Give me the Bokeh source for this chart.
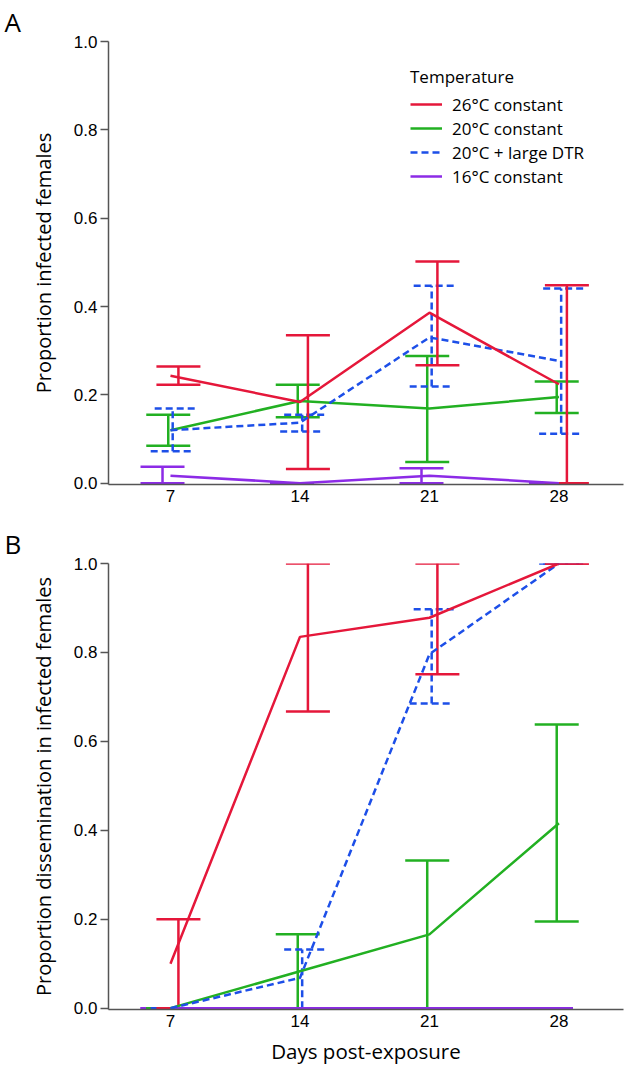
from bokeh.plotting import figure
from bokeh.models import (ColumnDataSource, Whisker, TeeHead, Legend, LegendItem,
                          FixedTicker, PrintfTickFormatter, Range1d)
from bokeh.layouts import column
from bokeh.transform import dodge
from bokeh.embed import file_html
from bokeh.resources import INLINE

# ---------------- data ----------------
days = [7, 14, 21, 28]
x_ticks = [7, 14, 21, 28]
y_ticks = [0.0, 0.2, 0.4, 0.6, 0.8, 1.0]
series_names = ["26°C constant", "20°C constant", "20°C + large DTR", "16°C constant"]

# Panel A: proportion infected females (mean, lower, upper)
inf_26 = [0.243, 0.184, 0.386, 0.224]
inf_26_lo = [0.223, 0.032, 0.267, 0.0]
inf_26_hi = [0.264, 0.335, 0.502, 0.448]
inf_20 = [0.120, 0.186, 0.169, 0.195]
inf_20_lo = [0.085, 0.149, 0.048, 0.159]
inf_20_hi = [0.155, 0.223, 0.288, 0.230]
inf_dtr = [0.120, 0.137, 0.330, 0.277]
inf_dtr_lo = [0.072, 0.117, 0.219, 0.112]
inf_dtr_hi = [0.169, 0.155, 0.447, 0.441]
inf_16 = [0.017, 0.0, 0.017, 0.0]
inf_16_lo = [0.0, 0.0, 0.0, 0.0]
inf_16_hi = [0.037, 0.0, 0.034, 0.0]

# Panel B: proportion dissemination in infected females
dis_26 = [0.100, 0.835, 0.878, 1.0]
dis_26_lo = [0.0, 0.667, 0.751, 1.0]
dis_26_hi = [0.200, 1.0, 1.0, 1.0]
dis_20 = [0.0, 0.083, 0.166, 0.416]
dis_20_lo = [0.0, 0.0, 0.0, 0.195]
dis_20_hi = [0.0, 0.166, 0.332, 0.638]
dis_dtr = [0.0, 0.068, 0.796, 1.0]
dis_dtr_lo = [0.0, 0.0, 0.685, 1.0]
dis_dtr_hi = [0.0, 0.132, 0.897, 1.0]
dis_16 = [0.0, 0.0, 0.0, 0.0]
dis_16_lo = [0.0, 0.0, 0.0, 0.0]
dis_16_hi = [0.0, 0.0, 0.0, 0.0]

# ---------------- styles ----------------
COLORS = {"26": "#E5173A", "20": "#22B022", "dtr": "#1D4FE8", "16": "#8C2BE6"}
DASH = {"26": "solid", "20": "solid", "dtr": "7 4", "16": "solid"}
OFFSET = {"26": 0.43, "20": -0.12, "dtr": 0.12, "16": -0.43}
LW = 2.5
TICK_FONT = "Liberation Sans"
LABEL_FONT = "Open Sans"
Y0 = -0.003


def make_fig(letter, height, top, fheight, ylabel, xlabel):
    p = figure(width=624, height=height, min_border_left=108, min_border_right=1,
               min_border_top=top, min_border_bottom=height - top - fheight,
               x_range=Range1d(3.65, 31.49), y_range=Range1d(Y0, 1.0),
               output_backend="svg", toolbar_location=None, tools="")
    p.outline_line_color = None
    p.grid.visible = False
    p.background_fill_color = "white"
    p.border_fill_color = "white"

    p.title.text = letter
    p.title.align = "left"
    p.title.offset = -104
    p.title.standoff = 3
    p.title.text_font = LABEL_FONT
    p.title.text_font_size = "26px"
    p.title.text_font_style = "normal"
    p.title.text_color = "black"

    xa = p.xaxis[0]
    xa.ticker = FixedTicker(ticks=x_ticks)
    xa.major_tick_out = 0
    xa.major_tick_in = 0
    xa.minor_tick_out = 0
    xa.minor_tick_in = 0
    xa.major_label_standoff = 5
    xa.axis_line_color = "#555555"
    xa.axis_line_width = 1.5
    xa.major_label_text_font = TICK_FONT
    xa.major_label_text_font_size = "17px"
    xa.major_label_text_color = "black"
    if xlabel:
        xa.axis_label = xlabel
        xa.axis_label_text_font = LABEL_FONT
        xa.axis_label_text_font_size = "20.5px"
        xa.axis_label_text_font_style = "normal"
        xa.axis_label_text_color = "black"
        xa.axis_label_standoff = 7

    ya = p.yaxis[0]
    ya.ticker = FixedTicker(ticks=y_ticks)
    ya.formatter = PrintfTickFormatter(format="%.1f")
    ya.bounds = (Y0, 1)
    ya.major_tick_out = 8
    ya.major_tick_in = 0
    ya.minor_tick_out = 0
    ya.minor_tick_in = 0
    ya.major_tick_line_color = "#555555"
    ya.major_tick_line_width = 1.5
    ya.major_label_standoff = 3
    ya.axis_line_color = "#555555"
    ya.axis_line_width = 1.5
    ya.major_label_text_font = TICK_FONT
    ya.major_label_text_font_size = "17px"
    ya.major_label_text_color = "black"
    ya.axis_label = ylabel
    ya.axis_label_text_font = LABEL_FONT
    ya.axis_label_text_font_size = "20px"
    ya.axis_label_text_font_style = "normal"
    ya.axis_label_text_color = "black"
    ya.axis_label_standoff = 14
    return p


def add_series(p, key, mean, lo, hi):
    src = ColumnDataSource(dict(day=days, mean=mean, lo=lo, hi=hi))
    color, dash = COLORS[key], DASH[key]

    def head():
        return TeeHead(size=44, line_color=color, line_width=LW, line_dash=dash)

    w = Whisker(source=src, base=dodge("day", OFFSET[key]), lower="lo", upper="hi",
                dimension="height", line_color=color, line_width=LW, line_dash=dash,
                upper_head=head(), lower_head=head())
    p.add_layout(w)
    r = p.line(x="day", y="mean", source=src, line_color=color, line_width=LW,
               line_dash=dash)
    return r


# ---------------- panel A ----------------
pA = make_fig("A", 522, 41, 443, "Proportion infected females", None)
rA16 = add_series(pA, "16", inf_16, inf_16_lo, inf_16_hi)
rA20 = add_series(pA, "20", inf_20, inf_20_lo, inf_20_hi)
rAdtr = add_series(pA, "dtr", inf_dtr, inf_dtr_lo, inf_dtr_hi)
rA26 = add_series(pA, "26", inf_26, inf_26_lo, inf_26_hi)

legend = Legend(items=[LegendItem(label=series_names[0], renderers=[rA26]),
                       LegendItem(label=series_names[1], renderers=[rA20]),
                       LegendItem(label=series_names[2], renderers=[rAdtr]),
                       LegendItem(label=series_names[3], renderers=[rA16])],
                location=(292, 286), title="Temperature")
legend.title_text_font = LABEL_FONT
legend.title_text_font_size = "17px"
legend.title_text_font_style = "normal"
legend.title_text_color = "black"
legend.title_standoff = 4
legend.label_text_font = LABEL_FONT
legend.label_text_font_size = "17px"
legend.label_text_color = "black"
legend.glyph_width = 32
legend.glyph_height = 24
legend.label_height = 24
legend.label_standoff = 10
legend.spacing = 0
legend.padding = 10
legend.margin = 0
legend.border_line_alpha = 0
legend.background_fill_alpha = 0
pA.add_layout(legend, "center")

# ---------------- panel B ----------------
pB = make_fig("B", 548, 41, 446, "Proportion dissemination in infected females",
              "Days post-exposure")
add_series(pB, "16", dis_16, dis_16_lo, dis_16_hi)
add_series(pB, "20", dis_20, dis_20_lo, dis_20_hi)
add_series(pB, "dtr", dis_dtr, dis_dtr_lo, dis_dtr_hi)
add_series(pB, "26", dis_26, dis_26_lo, dis_26_hi)

layout = column(pA, pB)
open("out.html", "w").write(file_html(layout, INLINE))
